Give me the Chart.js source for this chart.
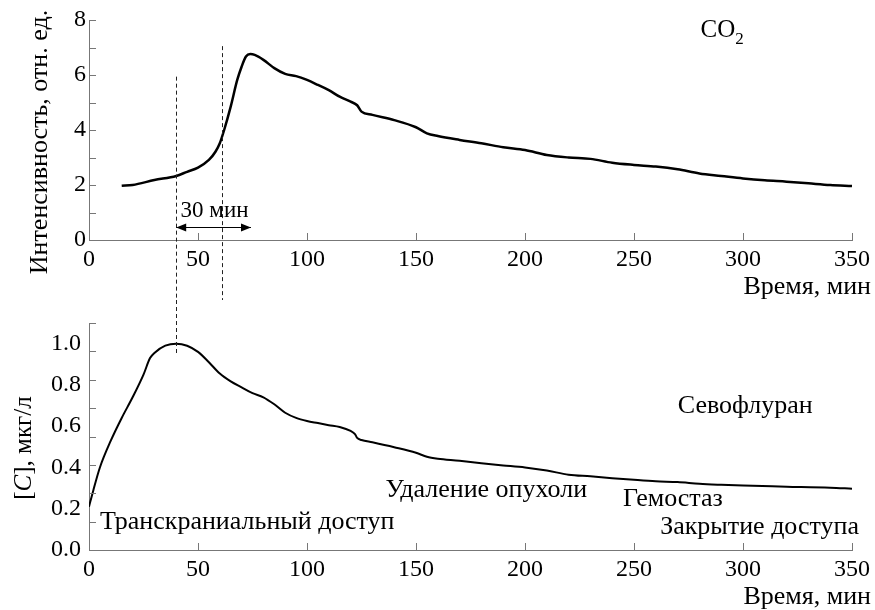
<!DOCTYPE html>
<html>
<head>
<meta charset="utf-8">
<script src="https://cdn.jsdelivr.net/npm/chart.js@4"></script>
<style>
    body { margin: 0; background: #fff; }
    #wrap { position: relative; width: 875px; height: 610px; }
    canvas { position: absolute; left: 0; }
</style>
</head>
<body>
<div id="wrap">
    <canvas id="co2Chart" width="875" height="300" style="top:0"></canvas>
    <canvas id="sevoChart" width="875" height="310" style="top:300px"></canvas>
</div>
<script>
const co2Time = [15, 20, 30, 40, 45, 50, 55, 58, 60, 62, 65, 68, 70, 72, 74, 76, 80, 85, 90, 95, 100, 105, 110, 115, 120, 123, 125, 130, 140, 150, 155, 160, 170, 180, 190, 200, 210, 220, 230, 240, 250, 260, 270, 280, 290, 300, 310, 320, 330, 340, 350];
const co2Values = [1.97, 2.0, 2.18, 2.33, 2.48, 2.63, 2.91, 3.21, 3.52, 4.0, 4.85, 5.82, 6.3, 6.67, 6.76, 6.73, 6.55, 6.25, 6.04, 5.96, 5.82, 5.64, 5.45, 5.21, 5.03, 4.9, 4.67, 4.55, 4.36, 4.1, 3.88, 3.78, 3.64, 3.52, 3.37, 3.27, 3.09, 3.0, 2.95, 2.81, 2.73, 2.67, 2.57, 2.42, 2.33, 2.24, 2.17, 2.12, 2.06, 2.0, 1.96];

const sevoTime = [0, 2, 5, 10, 15, 20, 25, 28, 30, 35, 40, 45, 50, 55, 60, 65, 70, 75, 80, 85, 90, 95, 100, 105, 110, 115, 120, 122, 123, 125, 130, 140, 150, 155, 157, 160, 170, 180, 190, 200, 210, 220, 230, 240, 250, 260, 270, 280, 290, 300, 320, 340, 350];
const sevoValues = [0.21, 0.29, 0.40, 0.53, 0.64, 0.74, 0.85, 0.93, 0.955, 0.99, 1.0, 0.99, 0.96, 0.91, 0.855, 0.817, 0.788, 0.76, 0.74, 0.706, 0.665, 0.64, 0.625, 0.615, 0.605, 0.596, 0.577, 0.562, 0.543, 0.533, 0.522, 0.498, 0.471, 0.452, 0.447, 0.442, 0.432, 0.42, 0.41, 0.40, 0.385, 0.365, 0.357, 0.348, 0.34, 0.333, 0.329, 0.321, 0.316, 0.312, 0.307, 0.302, 0.297];

const xTicks = [50, 100, 150, 200, 250, 300, 350];
const co2TickLabels = [0, 2, 4, 6, 8];
const co2TickMarks = [1, 2, 3, 4, 5, 6, 7, 8];
const sevoTickLabels = [0, 0.2, 0.4, 0.6, 0.8, 1.0];
const sevoTickMarks = [0.1375, 0.275, 0.4125, 0.55, 0.6875, 0.825, 0.9625, 1.1];

const markers = [40, 61];

const sevoLabels = [
    { text: "Транскраниальный доступ", x: 5, y: 0.104 },
    { text: "Удаление опухоли", x: 136, y: 0.255 },
    { text: "Гемостаз", x: 245, y: 0.215 },
    { text: "Закрытие доступа", x: 262, y: 0.078 }
];

const FONT = "\"Liberation Serif\", \"Times New Roman\", serif";
const AXIS_COLOR = "#777";

function toPoints(xs, ys) {
    return xs.map((x, i) => ({ x: x, y: ys[i] }));
}

function drawInwardTicks(chart, yMarks) {
    const ctx = chart.ctx;
    const xs = chart.scales.x;
    const ys = chart.scales.y;
    const area = chart.chartArea;
    ctx.save();
    ctx.strokeStyle = AXIS_COLOR;
    ctx.lineWidth = 1;
    ctx.beginPath();
    xTicks.forEach(v => {
        const px = Math.round(xs.getPixelForValue(v)) + 0.5;
        ctx.moveTo(px, area.bottom);
        ctx.lineTo(px, area.bottom - 7);
    });
    yMarks.forEach(v => {
        const py = Math.round(ys.getPixelForValue(v)) + 0.5;
        ctx.moveTo(area.left, py);
        ctx.lineTo(area.left + 7, py);
    });
    ctx.stroke();
    ctx.restore();
}

function drawXTitle(chart, y) {
    const ctx = chart.ctx;
    ctx.save();
    ctx.font = "26px " + FONT;
    ctx.fillStyle = "#000";
    ctx.textAlign = "right";
    ctx.textBaseline = "middle";
    ctx.fillText("Время, мин", 871, y);
    ctx.restore();
}

function dashed(ctx, x, y1, y2) {
    ctx.save();
    ctx.strokeStyle = "#222";
    ctx.lineWidth = 1;
    ctx.setLineDash([4, 3]);
    ctx.beginPath();
    ctx.moveTo(Math.round(x) + 0.5, y1);
    ctx.lineTo(Math.round(x) + 0.5, y2);
    ctx.stroke();
    ctx.restore();
}

function arrowHead(ctx, x, y, dir) {
    ctx.beginPath();
    ctx.moveTo(x, y);
    ctx.lineTo(x - dir * 10, y - 4);
    ctx.lineTo(x - dir * 10, y + 4);
    ctx.closePath();
    ctx.fill();
}

const co2Decor = {
    id: "co2Decor",
    afterDraw(chart) {
        const ctx = chart.ctx;
        const xs = chart.scales.x;
        const ys = chart.scales.y;
        drawInwardTicks(chart, co2TickMarks);

        dashed(ctx, xs.getPixelForValue(markers[0]), ys.getPixelForValue(5.94), chart.height);
        dashed(ctx, xs.getPixelForValue(markers[1]), ys.getPixelForValue(7.05), chart.height);

        const ay = Math.round(ys.getPixelForValue(0.49)) + 0.5;
        const ax1 = xs.getPixelForValue(40);
        const ax2 = xs.getPixelForValue(74.3);
        ctx.save();
        ctx.strokeStyle = "#000";
        ctx.fillStyle = "#000";
        ctx.lineWidth = 1;
        ctx.beginPath();
        ctx.moveTo(ax1, ay);
        ctx.lineTo(ax2, ay);
        ctx.stroke();
        arrowHead(ctx, ax1, ay, -1);
        arrowHead(ctx, ax2, ay, 1);

        ctx.font = "23px " + FONT;
        ctx.textAlign = "center";
        ctx.textBaseline = "alphabetic";
        ctx.fillText("30 мин", xs.getPixelForValue(57.6), ys.getPixelForValue(0.85));

        ctx.font = "25px " + FONT;
        ctx.textAlign = "left";
        const cx = xs.getPixelForValue(280.5);
        const cy = ys.getPixelForValue(7.39);
        ctx.fillText("CO", cx, cy);
        const w = ctx.measureText("CO").width;
        ctx.font = "17px " + FONT;
        ctx.fillText("2", cx + w, cy + 7);

        ctx.font = "26px " + FONT;
        ctx.translate(47, 142);
        ctx.rotate(-Math.PI / 2);
        ctx.textAlign = "center";
        ctx.fillText("Интенсивность, отн. ед.", 0, 0);
        ctx.restore();

        drawXTitle(chart, 287);
    }
};

const sevoDecor = {
    id: "sevoDecor",
    afterDraw(chart) {
        const ctx = chart.ctx;
        const xs = chart.scales.x;
        const ys = chart.scales.y;
        drawInwardTicks(chart, sevoTickMarks);

        dashed(ctx, xs.getPixelForValue(markers[0]), 0, ys.getPixelForValue(0.94));

        ctx.save();
        ctx.fillStyle = "#000";
        ctx.font = "26px " + FONT;
        ctx.textAlign = "left";
        ctx.textBaseline = "alphabetic";
        sevoLabels.forEach(l => {
            ctx.fillText(l.text, xs.getPixelForValue(l.x), ys.getPixelForValue(l.y));
        });
        ctx.textAlign = "center";
        ctx.textBaseline = "middle";
        ctx.fillText("Севофлуран", xs.getPixelForValue(301), ys.getPixelForValue(0.695));

        ctx.translate(31, 148);
        ctx.rotate(-Math.PI / 2);
        ctx.textBaseline = "alphabetic";
        const parts = [
            { t: "[", f: "25px " + FONT },
            { t: "C", f: "italic 25px " + FONT },
            { t: "], мкг/л", f: "25px " + FONT }
        ];
        let total = 0;
        parts.forEach(p => { ctx.font = p.f; total += ctx.measureText(p.t).width; });
        let x = -total / 2;
        ctx.textAlign = "left";
        parts.forEach(p => {
            ctx.font = p.f;
            ctx.fillText(p.t, x, 0);
            x += ctx.measureText(p.t).width;
        });
        ctx.restore();

        drawXTitle(chart, 297);
    }
};

function axisOptions(min, max, labels, decimals, tickPad) {
    return {
        x: {
            type: "linear",
            min: 0,
            max: 350,
            grid: { display: false, drawTicks: false },
            border: { display: true, color: AXIS_COLOR, width: 1 },
            ticks: {
                stepSize: 50,
                color: "#000",
                padding: 5,
                maxRotation: 0,
                font: { family: FONT, size: 24 }
            },
            afterFit: s => { s.height = 60; }
        },
        y: {
            type: "linear",
            min: min,
            max: max,
            grid: { display: false, drawTicks: false },
            border: { display: true, color: AXIS_COLOR, width: 1 },
            ticks: {
                color: "#000",
                padding: tickPad,
                autoSkip: false,
                font: { family: FONT, size: 24 },
                callback: v => v.toFixed(decimals)
            },
            afterBuildTicks: s => { s.ticks = labels.map(v => ({ value: v })); },
            afterFit: s => { s.width = 89; }
        }
    };
}

function makeChart(id, points, yOpts, topPad, plugin, lineWidth) {
    new Chart(document.getElementById(id), {
        type: "line",
        data: {
            datasets: [{
                data: points,
                borderColor: "#000",
                borderWidth: lineWidth,
                pointRadius: 0,
                cubicInterpolationMode: "monotone",
                fill: false
            }]
        },
        options: {
            responsive: false,
            animation: false,
            layout: { padding: { top: topPad, right: 20, left: 0, bottom: 0 } },
            plugins: { legend: { display: false }, tooltip: { enabled: false } },
            scales: yOpts
        },
        plugins: [plugin]
    });
}

makeChart("co2Chart", toPoints(co2Time, co2Values), axisOptions(0, 8, co2TickLabels, 0, 3), 20, co2Decor, 2.5);
makeChart("sevoChart", toPoints(sevoTime, sevoValues), axisOptions(0, 1.1, sevoTickLabels, 1, 8), 23, sevoDecor, 2);
</script>
</body>
</html>
